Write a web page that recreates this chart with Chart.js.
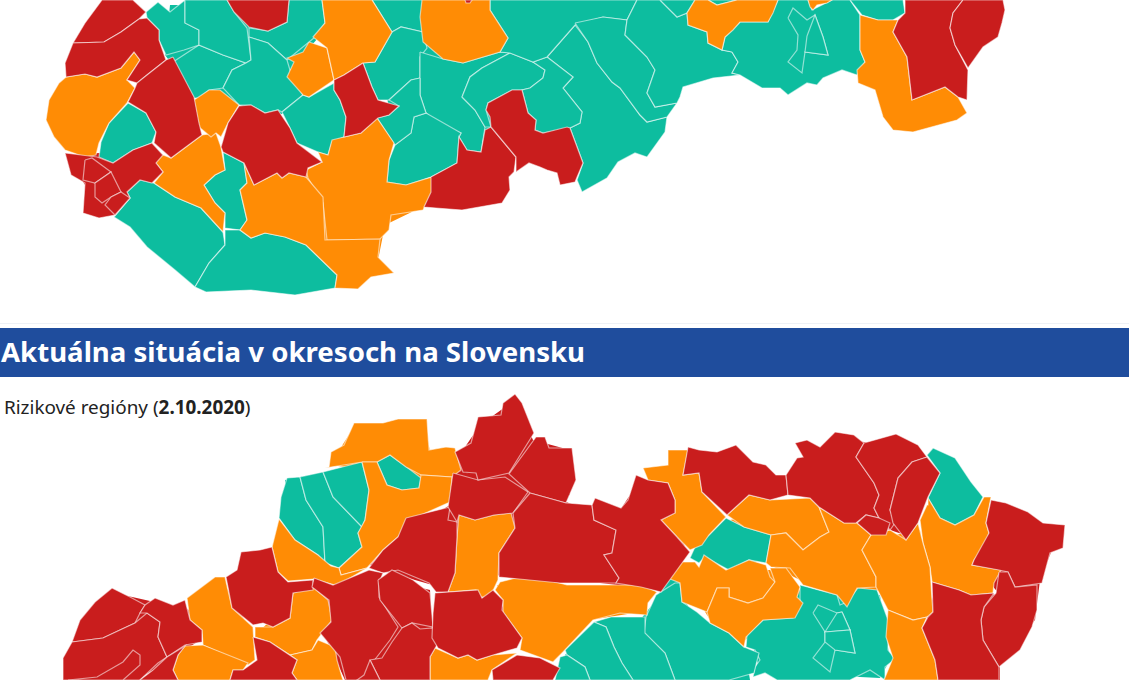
<!DOCTYPE html>
<html lang="sk"><head><meta charset="utf-8">
<script src="https://cdn.jsdelivr.net/npm/chart.js@4/dist/chart.umd.min.js"></script>
<style>
html,body{margin:0;padding:0;background:#fff;width:1129px;height:680px;overflow:hidden}
#wrap{position:relative;width:1129px;height:680px}
#rule{position:absolute;left:0;top:323px;width:1129px;height:1px;background:#eef1f6}
#band{position:absolute;left:0;top:328px;width:1129px;height:49px;background:#1f4d9d;color:#fff;font:700 27.6px/46px "Noto Sans",sans-serif;padding-left:1px;box-sizing:border-box;white-space:nowrap}
#sub{position:absolute;left:4px;top:396px;font:18.9px/22px "Noto Sans",sans-serif;color:#222;white-space:nowrap}
canvas{position:absolute;left:0;top:0}
</style></head><body>
<div id="wrap">
<div id="rule"></div>
<div id="band">Aktuálna situácia v okresoch na Slovensku</div>
<div id="sub">Rizikové regióny (<b>2.10.2020</b>)</div>
<canvas id="c" width="1129" height="680"></canvas>
</div>
<script>
// Each region outline is [x, y] in map units on the chart's linear scales.
const baseTeal = [
[[400,0],[700,0],[680,90],[640,110],[600,170],[583,160],[500,130],[430,170],[395,140],[380,60]],
[[170,5],[320,5],[325,30],[290,70],[303,100],[280,115],[240,105],[195,95],[165,55]],
[[285,480],[360,465],[368,490],[360,525],[360,550],[335,565],[290,535]],
[[640,620],[660,595],[680,590],[690,610],[745,650],[750,680],[570,680],[565,655],[595,625]],
[[750,635],[800,590],[880,595],[890,660],[880,678],[760,672]],
[[700,550],[730,525],[765,540],[762,560],[728,568],[700,558]],
[[646,617],[660,592],[678,565],[680,590]]
];
const baseOrange = [
[[245,190],[320,170],[380,125],[390,170],[430,180],[420,208],[385,225],[378,260],[350,280],[337,270],[300,240],[250,230]],
[[730,520],[810,505],[870,540],[880,590],[850,600],[800,580],[770,565],[770,540]],
[[680,570],[770,570],[800,590],[790,615],[745,640],[710,620]],
[[930,510],[985,510],[970,570],[995,575],[985,590],[935,580]],
[[870,540],[920,530],[930,610],[890,605]],
[[497,585],[650,590],[640,612],[590,620],[555,655],[525,645],[503,605]],
[[190,600],[225,585],[250,630],[250,660],[205,640]],
[[260,630],[295,600],[325,600],[328,620],[310,648],[290,650]],
[[295,660],[312,650],[335,650],[340,680],[297,680]],
[[330,465],[355,425],[425,423],[430,452],[455,452],[458,468],[450,500],[410,518],[370,565],[345,572],[365,520],[370,470]]
];
const baseRed = [
[[66,155],[150,150],[160,170],[130,195],[112,212],[90,215],[85,185]],
[[455,470],[530,490],[575,505],[620,510],[640,480],[680,510],[685,550],[660,590],[600,583],[500,575],[450,590],[380,570],[370,565],[400,535],[450,505]],
[[480,425],[515,400],[533,440],[570,450],[570,495],[520,490],[455,470],[465,447]],
[[320,590],[370,575],[430,590],[435,680],[345,680],[322,630]],
[[435,600],[500,600],[518,645],[440,645]],
[[700,455],[780,480],[850,440],[920,450],[935,470],[905,535],[860,520],[810,495],[750,490],[725,510]],
[[75,640],[110,592],[190,610],[200,640],[170,660],[140,678],[65,678]],
[[243,560],[270,552],[285,590],[290,615],[265,620],[235,605]],
[[975,565],[1000,510],[1060,530],[1040,580],[1035,620],[1000,665],[1000,680],[940,680],[925,625],[935,590],[1000,595]]
];
const topTeal = [
[[128,103],[146,113],[156,132],[152,143],[133,150],[113,163],[99,157],[101,142],[109,123]],
[[223,152],[244,163],[247,183],[240,190],[247,220],[240,230],[225,228],[225,213],[215,203],[204,185],[215,175],[225,170]],
[[173,62],[199,45],[223,55],[246,63],[232,70],[223,88],[209,90],[199,98],[194,98]],
[[146,12],[158,2],[170,12],[185,0],[185,23],[199,30],[199,45],[184,50],[166,55],[159,40],[159,30],[147,18]],
[[185,0],[227,0],[234,12],[247,28],[251,60],[246,63],[223,55],[199,45],[199,30],[185,23]],
[[289,0],[322,0],[325,23],[315,37],[309,42],[287,60],[268,43],[249,37],[249,28],[268,31],[287,22]],
[[249,37],[268,43],[287,60],[292,77],[303,95],[282,112],[278,110],[265,113],[251,105],[239,105],[223,88],[232,70],[246,63],[251,60]],
[[372,0],[423,0],[423,32],[401,27],[392,32]],
[[392,32],[401,27],[423,32],[427,48],[420,57],[420,78],[411,80],[389,100],[378,100],[372,87],[363,63],[375,62]],
[[282,112],[303,95],[309,97],[334,83],[334,90],[340,100],[346,117],[344,137],[332,142],[328,155],[318,152],[297,143],[290,128]],
[[114,217],[130,198],[127,192],[140,180],[154,183],[175,197],[201,208],[223,232],[225,245],[209,263],[195,287],[175,270],[147,247],[130,227]],
[[225,230],[240,230],[251,238],[265,233],[285,237],[306,245],[337,275],[335,288],[295,295],[251,290],[206,292],[195,287],[209,263],[225,245]],
[[420,52],[443,59],[463,63],[500,52],[510,53],[482,68],[470,77],[462,97],[475,110],[485,127],[481,152],[467,150],[459,137],[461,133],[440,125],[426,113],[420,95],[420,78]],
[[462,97],[470,77],[482,68],[510,53],[533,62],[545,70],[543,78],[530,88],[522,90],[512,90],[488,103],[486,110],[491,127],[485,127],[475,110]],
[[426,113],[461,133],[459,137],[457,163],[431,177],[406,185],[387,182],[389,160],[395,145],[411,133],[414,117]],
[[420,78],[420,95],[426,113],[414,117],[411,133],[395,145],[377,118],[389,115],[399,106],[389,100],[411,80]],
[[547,57],[575,25],[588,42],[597,63],[612,82],[620,88],[640,115],[647,122],[667,117],[665,132],[647,157],[635,153],[618,162],[607,178],[582,192],[577,180],[583,163],[570,128],[580,123],[582,112],[563,88],[573,77]],
[[547,57],[573,77],[563,88],[582,112],[580,123],[570,128],[543,133],[535,130],[536,120],[528,113],[522,90],[530,88],[543,78],[545,70],[533,62]],
[[423,0],[490,0],[490,10],[508,38],[500,52],[510,53],[533,62],[547,57],[575,25],[603,17],[627,20],[637,0]],
[[575,23],[603,17],[627,20],[625,35],[647,57],[655,70],[647,93],[655,107],[677,103],[667,117],[647,122],[640,115],[620,88],[612,82],[597,63],[588,42]],
[[637,0],[660,0],[677,17],[687,13],[688,25],[707,32],[708,43],[722,50],[732,52],[738,62],[732,73],[740,75],[713,78],[683,87],[680,97],[677,103],[655,107],[647,93],[655,70],[647,57],[625,35],[627,20]],
[[660,0],[695,0],[687,13],[677,17]],
[[708,0],[737,0],[717,5]],
[[732,52],[722,50],[725,37],[740,22],[768,22],[778,0],[808,0],[812,10],[832,0],[850,0],[860,15],[860,50],[865,62],[857,75],[842,70],[823,78],[817,85],[807,83],[788,95],[780,88],[762,88],[740,75],[732,73],[738,62]],
[[788,18],[793,8],[807,20],[815,15],[823,37],[828,55],[805,52],[802,73],[788,62],[797,50],[798,35]],
[[807,36],[815,15],[823,37],[828,55],[805,52]],
[[850,0],[903,0],[905,13],[893,20],[878,20],[862,15]]
];
const topOrange = [
[[134,52],[140,60],[127,80],[135,88],[127,103],[109,123],[99,143],[96,155],[85,157],[65,150],[54,137],[46,120],[49,100],[59,83],[66,77],[85,74],[97,77],[121,68]],
[[158,153],[171,158],[202,135],[216,133],[221,147],[225,170],[215,175],[204,185],[215,203],[225,213],[223,232],[201,208],[175,197],[154,183],[163,172],[156,163]],
[[194,100],[209,90],[220,90],[239,105],[228,123],[221,137],[216,133],[211,137],[199,127]],
[[309,42],[327,48],[334,80],[309,97],[303,95],[287,77],[294,62],[287,58],[303,52]],
[[322,0],[372,0],[392,32],[375,62],[363,63],[344,75],[334,80],[327,48],[313,37],[325,23]],
[[318,152],[328,155],[332,140],[344,137],[361,133],[377,118],[394,143],[389,160],[387,182],[406,185],[432,177],[432,192],[423,210],[391,215],[389,230],[380,239],[327,240],[323,203],[308,178],[306,170],[322,162]],
[[254,185],[277,173],[282,178],[289,173],[306,177],[323,197],[325,240],[380,239],[378,257],[394,273],[371,277],[358,289],[335,288],[337,275],[306,245],[285,237],[265,233],[251,238],[240,230],[247,220],[240,190],[247,183],[244,163]],
[[422,0],[490,0],[490,10],[508,38],[500,52],[463,63],[443,59],[423,42],[420,17]],
[[695,0],[708,0],[717,5],[737,0],[778,0],[773,13],[768,22],[740,22],[733,30],[725,37],[722,50],[708,43],[707,32],[688,25],[687,13]],
[[808,0],[832,0],[827,3],[817,5],[813,10],[810,7]],
[[860,15],[878,20],[898,20],[893,32],[907,57],[912,100],[945,87],[958,97],[967,113],[957,120],[913,132],[893,130],[883,117],[875,90],[858,83],[857,70],[865,62],[860,50]]
];
const topRed = [
[[102,0],[133,0],[146,12],[139,19],[121,32],[104,42],[73,43],[85,23]],
[[73,43],[104,42],[121,32],[139,19],[147,18],[159,30],[159,40],[166,60],[147,75],[137,83],[127,80],[140,60],[134,52],[121,68],[97,77],[85,74],[66,77],[65,63]],
[[173,57],[194,97],[199,123],[202,135],[171,158],[154,143],[156,132],[146,113],[128,102],[135,88],[137,83],[147,75],[166,60]],
[[65,153],[97,157],[113,163],[133,150],[152,143],[163,155],[156,163],[163,172],[152,183],[140,180],[127,192],[130,198],[115,215],[99,218],[83,213],[85,183],[71,175]],
[[85,160],[83,180],[95,183],[111,172],[92,158]],
[[95,183],[111,172],[121,192],[111,197],[102,203],[95,197]],
[[111,197],[121,192],[130,198],[115,215],[105,205]],
[[221,147],[228,123],[239,106],[251,105],[265,113],[278,110],[290,128],[297,143],[322,162],[308,168],[306,177],[289,173],[282,178],[277,173],[254,185],[244,163],[223,152]],
[[227,0],[289,0],[287,22],[268,31],[249,27],[234,12]],
[[363,63],[372,87],[378,100],[399,106],[389,115],[378,118],[361,133],[344,137],[346,117],[340,100],[334,90],[334,80],[344,75]],
[[431,177],[457,163],[459,137],[467,150],[481,152],[485,130],[491,127],[516,157],[514,172],[509,177],[510,190],[502,203],[462,210],[436,208],[424,207],[431,192]],
[[486,110],[488,103],[512,90],[522,90],[528,113],[536,120],[535,130],[543,133],[567,127],[570,128],[583,163],[575,182],[560,185],[557,173],[547,170],[540,167],[529,163],[516,172],[516,157],[491,127],[490,117]],
[[465,0],[472,0],[470,3],[466,3]],
[[905,0],[963,0],[953,13],[950,28],[955,45],[968,70],[967,100],[958,97],[945,87],[912,100],[907,57],[893,32],[898,20],[905,13]],
[[963,0],[1003,0],[1005,10],[1002,23],[998,37],[983,47],[968,68],[955,45],[950,28],[953,13]]
];
const lowTeal = [
[[390,455],[404,465],[421,478],[419,488],[402,490],[387,485],[377,462]],
[[287,478],[300,477],[306,500],[323,527],[325,563],[318,555],[295,540],[279,518],[281,497]],
[[300,477],[323,472],[333,497],[362,527],[358,533],[362,547],[339,568],[331,565],[325,563],[323,527],[306,500]],
[[323,472],[362,462],[369,490],[365,520],[362,527],[333,497]],
[[726,518],[744,527],[771,535],[766,563],[749,560],[729,570],[705,557],[699,563],[690,558],[695,547],[709,535]],
[[933,448],[955,458],[971,482],[983,497],[974,515],[955,525],[940,518],[928,498],[940,473],[927,455]],
[[800,585],[837,595],[840,605],[847,602],[858,588],[877,590],[888,620],[888,650],[895,659],[885,667],[885,680],[870,670],[850,680],[777,680],[765,673],[753,677],[755,667],[760,660],[755,650],[746,647],[747,635],[763,620],[793,618],[800,602]],
[[813,613],[818,605],[837,613],[842,612],[850,630],[855,653],[835,650],[830,672],[813,658],[825,642],[825,632]],
[[842,612],[850,630],[825,632],[837,613]],
[[825,642],[825,632],[850,630],[855,653],[835,650]],
[[675,583],[680,583],[682,602],[697,612],[710,623],[729,633],[744,647],[759,653],[754,673],[729,680],[675,680],[665,653],[644,633],[646,617],[656,595]],
[[594,622],[611,617],[645,617],[645,633],[665,653],[675,680],[633,680],[622,663],[614,647],[606,627]],
[[565,650],[594,622],[606,627],[614,647],[622,663],[633,680],[590,680],[585,667],[567,655]],
[[560,657],[567,655],[585,667],[590,680],[555,680]]
];
const lowOrange = [
[[329,467],[331,452],[344,445],[354,423],[383,423],[398,419],[427,419],[429,450],[446,447],[455,448],[461,470],[452,477],[421,475],[406,467],[390,455],[377,462],[362,462],[325,468]],
[[362,462],[377,462],[387,485],[402,490],[419,488],[421,475],[452,477],[450,502],[410,520],[398,537],[383,550],[367,568],[341,575],[339,568],[362,547],[358,533],[365,520],[369,490]],
[[279,519],[295,540],[318,555],[331,566],[339,568],[341,575],[367,568],[340,584],[335,585],[314,579],[288,581],[278,572],[272,547]],
[[187,598],[215,577],[225,577],[232,608],[253,627],[255,660],[248,665],[203,645],[202,630],[190,620]],
[[185,646],[203,645],[223,653],[248,663],[243,670],[233,670],[230,680],[178,680],[173,670],[178,655]],
[[255,627],[273,627],[290,618],[293,593],[313,587],[328,600],[332,620],[317,640],[312,650],[290,655],[270,642],[255,637]],
[[290,655],[312,650],[318,640],[335,647],[337,660],[342,677],[343,680],[297,680],[292,673],[297,660]],
[[459,515],[475,520],[494,515],[511,513],[515,528],[499,553],[498,580],[490,597],[478,597],[476,590],[448,592],[455,573],[457,537]],
[[643,468],[668,465],[668,450],[688,450],[683,475],[699,473],[702,492],[726,517],[709,535],[702,545],[690,550],[677,537],[661,520],[675,513],[675,500],[668,483],[648,480]],
[[727,515],[749,495],[770,500],[810,498],[819,507],[829,532],[820,537],[803,550],[786,533],[771,535],[744,527]],
[[819,507],[844,523],[857,523],[871,535],[862,550],[876,577],[876,587],[857,588],[847,607],[837,595],[803,585],[790,568],[771,567],[766,563],[771,535],[786,533],[803,550],[820,537],[829,532]],
[[984,497],[991,497],[986,523],[989,533],[984,547],[974,560],[972,565],[1001,570],[994,583],[993,593],[971,595],[959,590],[932,582],[930,567],[923,543],[920,520],[927,505],[928,498],[940,518],[955,525],[974,515]],
[[871,535],[890,530],[906,540],[918,523],[923,543],[930,567],[932,600],[933,612],[927,617],[913,620],[888,610],[876,587],[876,577],[862,550]],
[[888,610],[913,620],[927,617],[922,628],[935,660],[938,680],[884,680],[893,658],[886,637]],
[[665,577],[678,562],[695,562],[699,567],[704,555],[726,570],[749,560],[766,565],[770,577],[775,582],[763,598],[748,603],[729,597],[729,588],[717,588],[707,612],[682,602],[680,583]],
[[707,612],[717,588],[729,588],[729,597],[748,603],[763,598],[775,582],[770,568],[786,568],[800,587],[797,597],[803,603],[795,618],[763,620],[746,637],[744,647],[729,633],[710,623]],
[[500,582],[528,575],[567,585],[613,585],[642,585],[657,592],[648,603],[647,615],[620,613],[593,620],[563,652],[553,662],[520,650],[522,638],[503,612],[503,600],[495,590]],
[[435,648],[458,658],[468,655],[477,660],[493,655],[517,653],[492,670],[488,680],[430,680],[430,657]]
];
const lowRed = [
[[406,518],[450,507],[448,520],[457,522],[457,537],[455,573],[448,592],[436,592],[429,583],[398,570],[383,573],[369,568],[383,550],[398,537]],
[[241,552],[260,550],[272,547],[278,572],[288,582],[313,580],[313,590],[293,593],[290,618],[273,627],[263,623],[253,625],[232,608],[228,587],[226,577],[237,570]],
[[112,588],[130,597],[145,605],[140,613],[135,623],[120,630],[103,638],[72,642],[80,620],[95,602]],
[[72,642],[103,638],[120,630],[135,623],[147,613],[160,622],[158,637],[167,657],[158,663],[140,680],[63,680],[63,658]],
[[68,680],[97,677],[123,662],[133,650],[140,655],[140,665],[123,680]],
[[145,605],[155,598],[173,605],[185,600],[190,620],[202,630],[202,642],[185,645],[167,657],[158,637],[160,622],[147,613],[140,613]],
[[167,657],[185,646],[178,655],[173,670],[178,680],[140,680],[153,670]],
[[253,637],[270,642],[297,660],[292,673],[297,680],[230,680],[233,670],[243,670],[257,660]],
[[314,578],[333,585],[369,570],[383,573],[379,583],[379,597],[398,627],[390,640],[373,662],[364,680],[346,680],[340,657],[320,633],[331,622],[329,600],[312,587]],
[[378,580],[392,570],[413,580],[430,593],[433,627],[412,623],[402,628],[380,600]],
[[402,628],[412,623],[420,629],[433,628],[437,645],[430,657],[430,680],[380,680],[370,660],[382,658],[392,642]],
[[370,660],[380,680],[357,680],[364,675]],
[[435,593],[478,590],[482,598],[493,590],[503,600],[502,610],[522,638],[517,648],[510,650],[493,655],[477,660],[468,655],[458,658],[438,648],[432,638],[433,613]],
[[453,473],[478,480],[505,477],[528,492],[513,513],[494,515],[475,520],[459,515],[457,522],[448,507]],
[[478,417],[501,415],[503,403],[515,394],[522,403],[534,433],[509,473],[478,480],[476,473],[463,472],[455,452],[471,443]],
[[536,437],[545,437],[549,448],[572,448],[576,480],[566,503],[530,493],[509,474]],
[[530,493],[566,503],[592,505],[594,520],[616,530],[612,553],[604,555],[619,578],[616,583],[560,583],[499,577],[499,553],[515,528],[513,513]],
[[595,498],[621,508],[628,500],[636,475],[648,480],[668,483],[675,500],[675,513],[661,520],[677,537],[690,552],[661,592],[641,587],[616,583],[619,578],[604,555],[612,553],[616,530],[594,520],[592,505]],
[[688,447],[699,450],[717,452],[736,445],[753,462],[766,465],[776,475],[786,475],[788,495],[770,500],[749,495],[727,515],[702,492],[699,473],[683,475]],
[[786,475],[797,458],[803,457],[795,443],[807,440],[820,447],[835,432],[854,435],[864,443],[856,457],[874,483],[879,495],[874,508],[879,518],[866,515],[856,523],[844,523],[819,507],[810,498],[788,495]],
[[864,443],[896,434],[918,445],[927,457],[912,462],[898,478],[890,510],[895,523],[890,530],[879,518],[874,508],[879,495],[874,483],[856,457]],
[[927,457],[940,473],[928,497],[918,523],[906,540],[893,523],[890,510],[898,478],[912,462]],
[[857,523],[866,515],[879,518],[890,523],[886,535],[871,535]],
[[991,500],[1006,503],[1028,512],[1043,523],[1065,525],[1063,548],[1050,553],[1042,583],[1015,587],[1008,572],[999,570],[972,565],[974,560],[989,533],[986,523]],
[[999,572],[1008,572],[1015,587],[1037,585],[1037,610],[1032,627],[1020,650],[999,667],[983,640],[981,620],[984,607],[996,593]],
[[932,582],[959,590],[971,595],[994,593],[984,607],[981,620],[983,640],[999,667],[999,680],[938,680],[935,660],[922,628],[928,617],[933,612]],
[[492,670],[517,655],[540,658],[560,668],[553,680],[493,680]]
];
const TEAL='#0dbd9f', ORANGE='#ff8c05', RED='#c91d1d', EDGE='rgba(255,255,255,0.55)';
const layers=[[baseTeal,TEAL,0],[baseOrange,ORANGE,0],[baseRed,RED,0],[topTeal,TEAL,1],[lowTeal,TEAL,1],[topOrange,ORANGE,1],[lowOrange,ORANGE,1],[topRed,RED,1],[lowRed,RED,1]];
const datasets=[];
layers.forEach(([regions,color,edge])=>regions.forEach(r=>{
  const d=r.concat([r[0]]).map(([x,y])=>({x,y}));
  datasets.unshift({data:d,showLine:true,fill:'shape',backgroundColor:color,borderColor:edge?EDGE:color,borderWidth:edge?1.2:0,pointRadius:0,tension:0});
}));
new Chart(document.getElementById('c'),{type:'scatter',data:{datasets},options:{
  responsive:false,animation:false,layout:{padding:0},
  plugins:{legend:{display:false},tooltip:{enabled:false},title:{display:false}},
  scales:{x:{type:'linear',min:0,max:1129,display:false},y:{type:'linear',min:0,max:680,reverse:true,display:false}}
}});
</script>
</body></html>
